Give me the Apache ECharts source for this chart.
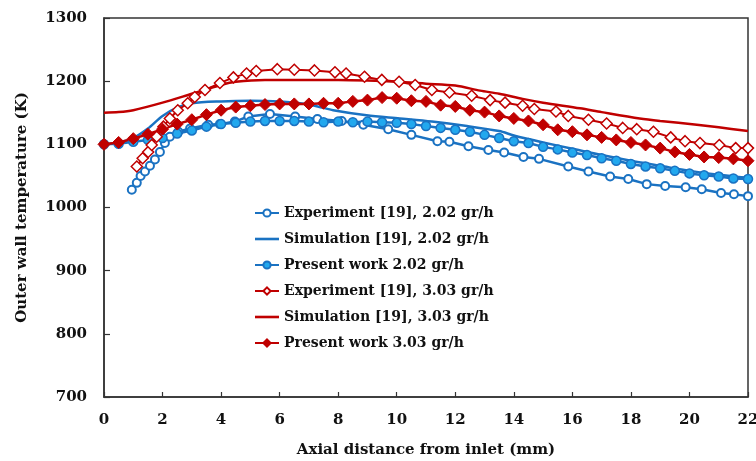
<!DOCTYPE html>
<html><head><meta charset="utf-8">
<script src="https://cdn.jsdelivr.net/npm/echarts@6/dist/echarts.min.js"></script>
<style>html,body{margin:0;padding:0;background:#fff}#c{width:756px;height:461px}</style>
</head><body><div id="c"></div>
<script>
var seriesNames = ["Experiment [19], 2.02 gr/h","Simulation [19], 2.02 gr/h","Present work 2.02 gr/h","Experiment [19], 3.03 gr/h","Simulation [19], 3.03 gr/h","Present work 3.03 gr/h"];
var xTicks = [0,2,4,6,8,10,12,14,16,18,20,22];
var yTicks = [700,800,900,1000,1100,1200,1300];

var exp202 = [[0.95,1028],[1.12,1039],[1.25,1050],[1.4,1057],[1.57,1066],[1.74,1076],[1.91,1088],[2.08,1102],[2.25,1112],[2.54,1120],[2.94,1125],[3.56,1131],[3.96,1132],[4.47,1136],[4.93,1144],[5.67,1148],[6.53,1144],[7.29,1140],[8.12,1137],[8.86,1131],[9.71,1124],[10.5,1115],[11.39,1105],[11.8,1104],[12.45,1097],[13.13,1091],[13.67,1087],[14.33,1080],[14.86,1077],[15.86,1065],[16.55,1057],[17.29,1049],[17.91,1045],[18.54,1037],[19.17,1034],[19.87,1032],[20.42,1029],[21.08,1023],[21.52,1021],[22.0,1018]];
var sim202 = [[0,1100],[0.5,1103],[1,1110],[1.5,1125],[2,1145],[2.5,1158],[3,1165],[4,1168],[5,1169],[6,1168],[6.7,1165],[7.3,1160],[7.83,1154],[8.97,1146],[10.1,1141],[11.2,1136],[12.4,1129],[13.5,1121],[14,1114],[15,1103],[16,1093],[17,1083],[18,1074],[19,1066],[20,1058],[21,1052],[22,1047]];
var pw202x = [0,0.5,1,1.5,2,2.5,3,3.5,4,4.5,5,5.5,6,6.5,7,7.5,8,8.5,9,9.5,10,10.5,11,11.5,12,12.5,13,13.5,14,14.5,15,15.5,16,16.5,17,17.5,18,18.5,19,19.5,20,20.5,21,21.5,22];
var pw202y = [1100,1101,1104,1107,1110,1117,1122,1128,1132,1134,1136,1137,1137,1137,1136,1135,1136,1135,1136,1135,1134,1132,1129,1126,1123,1120,1115,1110,1105,1102,1096,1092,1087,1083,1078,1074,1069,1065,1062,1058,1054,1051,1049,1046,1045];
var exp303 = [[1.12,1065],[1.32,1078],[1.51,1088],[1.63,1099],[1.8,1112],[2.03,1128],[2.25,1141],[2.52,1154],[2.86,1165],[3.1,1175],[3.45,1186],[3.96,1197],[4.42,1206],[4.87,1212],[5.2,1216],[5.92,1219],[6.5,1218],[7.19,1217],[7.89,1214],[8.27,1212],[8.9,1207],[9.49,1202],[10.08,1199],[10.63,1194],[11.2,1186],[11.8,1182],[12.56,1177],[13.19,1170],[13.7,1166],[14.3,1161],[14.7,1156],[15.44,1152],[15.86,1145],[16.55,1139],[17.17,1133],[17.72,1126],[18.2,1124],[18.77,1120],[19.36,1111],[19.85,1105],[20.36,1102],[21.02,1099],[21.58,1094],[22.0,1094]];
var sim303 = [[0,1150],[0.5,1151],[1,1154],[2,1166],[3,1180],[4,1194],[4.5,1199],[5.5,1202],[7,1202],[8,1202],[9,1201],[10,1199],[11,1196],[12,1193],[12.85,1185],[13.5,1180],[14.3,1172],[15,1166],[16.26,1157],[17,1151],[18.3,1141],[19,1137],[20.25,1131],[21,1127],[22,1121]];
var pw303x = pw202x;
var pw303y = [1100,1103,1109,1116,1124,1132,1139,1147,1154,1159,1161,1163,1164,1164,1164,1165,1165,1168,1170,1174,1173,1169,1168,1162,1160,1154,1151,1145,1141,1137,1131,1123,1120,1115,1111,1107,1103,1099,1094,1088,1084,1080,1079,1077,1074];

function zip(a,b){return a.map(function(v,i){return [v,b[i]];});}

var BLUE='#1a72c2', LBLUE='#22a8ee', RED='#c00000';
var FONT='DejaVu Serif';
var lineIcon='path://M0,0L24,0L24,2.6L0,2.6Z';

var chart = echarts.init(document.getElementById('c'), null, {renderer:'canvas'});
chart.setOption({
  animation:false,
  backgroundColor:'#fff',
  grid:{left:104,right:8,top:18,bottom:64,show:true,borderColor:'#333',borderWidth:1.5,containLabel:false,outerBoundsMode:'none'},
  legend:{
    orient:'vertical', left:249, top:200, itemGap:10, itemWidth:24, itemHeight:9,
    symbolKeepAspect:true,
    data:[
      {name:seriesNames[0]},
      {name:seriesNames[1],icon:lineIcon},
      {name:seriesNames[2]},
      {name:seriesNames[3]},
      {name:seriesNames[4],icon:lineIcon},
      {name:seriesNames[5]}
    ],
    textStyle:{fontFamily:FONT,fontWeight:'bold',fontSize:14,color:'#111',lineHeight:16}
  },
  xAxis:{
    type:'value', min:0, max:22, interval:2,
    name:'Axial distance from inlet (mm)', nameLocation:'middle', nameGap:46,
    nameTextStyle:{fontFamily:FONT,fontWeight:'bold',fontSize:15,color:'#111'},
    axisLine:{show:true,onZero:false,lineStyle:{color:'#333',width:1.5}},
    axisTick:{show:true,inside:true,length:5,lineStyle:{color:'#333',width:1.2}},
    axisLabel:{margin:16,fontFamily:FONT,fontWeight:'bold',fontSize:15,color:'#111',
      formatter:function(v){return xTicks.indexOf(v)>=0?String(v):'';}},
    splitLine:{show:false}
  },
  yAxis:{
    type:'value', min:700, max:1300, interval:100,
    name:'Outer wall temperature (K)', nameLocation:'middle', nameGap:74,
    nameTextStyle:{fontFamily:FONT,fontWeight:'bold',fontSize:15,color:'#111'},
    axisLine:{show:true,lineStyle:{color:'#333',width:1.5}},
    axisTick:{show:true,inside:true,length:6,lineStyle:{color:'#333',width:1.2}},
    axisLabel:{margin:17,fontFamily:FONT,fontWeight:'bold',fontSize:15,color:'#111',
      formatter:function(v){return yTicks.indexOf(v)>=0?String(v):'';}},
    splitLine:{show:false}
  },
  series:[
    {name:seriesNames[0],type:'line',data:exp202,symbol:'circle',symbolSize:8,showAllSymbol:true,
      lineStyle:{color:BLUE,width:2.5},itemStyle:{color:'#fff',borderColor:BLUE,borderWidth:2}},
    {name:seriesNames[1],type:'line',data:sim202,symbol:'none',smooth:0.3,
      lineStyle:{color:BLUE,width:2.5},itemStyle:{color:BLUE}},
    {name:seriesNames[2],type:'line',data:zip(pw202x,pw202y),symbol:'circle',symbolSize:9,showAllSymbol:true,
      lineStyle:{color:BLUE,width:2.5},itemStyle:{color:LBLUE,borderColor:BLUE,borderWidth:1.5}},
    {name:seriesNames[3],type:'line',data:exp303,symbol:'diamond',symbolSize:11,showAllSymbol:true,
      lineStyle:{color:RED,width:2},itemStyle:{color:'#fff',borderColor:RED,borderWidth:1.5}},
    {name:seriesNames[4],type:'line',data:sim303,symbol:'none',smooth:0.3,
      lineStyle:{color:RED,width:2.5},itemStyle:{color:RED}},
    {name:seriesNames[5],type:'line',data:zip(pw303x,pw303y),symbol:'diamond',symbolSize:12,showAllSymbol:true,
      lineStyle:{color:RED,width:2.5},itemStyle:{color:RED,borderColor:RED,borderWidth:1}}
  ]
});
</script></body></html>
